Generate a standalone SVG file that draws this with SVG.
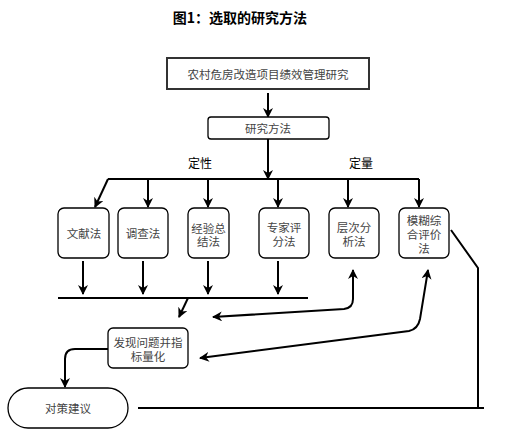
<svg xmlns="http://www.w3.org/2000/svg" width="516" height="431" viewBox="0 0 516 431">
<defs>
<marker id="ah" viewBox="0 0 10 10" refX="9" refY="5" markerWidth="10" markerHeight="10" markerUnits="userSpaceOnUse" orient="auto-start-reverse">
<path d="M0,0 L10,5 L0,10 L3,5 z" fill="#000"/>
</marker>
<style>
.n{fill:#fff;stroke:#000;stroke-width:1.3}
.t{font-family:"Noto Sans CJK SC","Noto Sans",sans-serif;font-size:11.5px;fill:#444;text-anchor:middle;dominant-baseline:central}
.l{font-family:"Noto Sans CJK SC","Noto Sans",sans-serif;font-size:12px;fill:#000;text-anchor:middle;dominant-baseline:central}
.c{fill:none;stroke:#000;stroke-width:2}
.a{marker-end:url(#ah)}
.b{marker-start:url(#ah);marker-end:url(#ah)}
</style>
</defs>
<rect width="516" height="431" fill="#fff"/>
<text x="240" y="17" font-family="'Noto Sans CJK SC',sans-serif" font-size="14" font-weight="bold" text-anchor="middle" dominant-baseline="central">图1：选取的研究方法</text>
<text class="l" x="200" y="162">定性</text>
<text class="l" x="361" y="162">定量</text>
<g id="connectors">
<path class="c a" d="M268,93 L268,117"/>
<path class="c a" d="M268,139 L268,179"/>
<path class="c" d="M108,179 L419,179"/>
<path class="c a" d="M108,179 L95,207"/>
<path class="c a" d="M148,179 L148,207"/>
<path class="c a" d="M208,179 L208,207"/>
<path class="c a" d="M278,179 L278,207"/>
<path class="c a" d="M348,179 L348,207"/>
<path class="c a" d="M419,179 L419,207"/>
<path class="c a" d="M83,261 L83,294"/>
<path class="c a" d="M143,261 L143,294"/>
<path class="c a" d="M208,261 L208,294"/>
<path class="c a" d="M278,261 L278,294"/>
<path class="c" d="M58,298 L308,298"/>
<path class="c a" d="M188,298 L179,317"/>
<path class="c b" d="M213,317 L344,309 Q353,308 353,299 L353,270"/>
<path class="c b" d="M200,358 L409,331 Q418,329 420,319 L428,270"/>
<path class="c" d="M451,230 L478,268 L478,408"/>
<path class="c" d="M484,408 L138,408"/>
<path class="c a" d="M108,349 L75,349 Q65,349 65,359 L65,387"/>
</g>
<g id="n-top"><rect x="167" y="58" width="202" height="31" fill="#fff" stroke="#333" stroke-width="2"/><text class="t" x="268" y="74" font-size="12">农村危房改造项目绩效管理研究</text></g>
<g id="n-method"><rect class="n" x="208" y="117" width="121" height="22" rx="3" stroke-width="1.8"/><text class="t" x="268" y="128">研究方法</text></g>
<g id="n-wx"><rect class="n" x="58" y="208" width="51" height="50" rx="6"/><text class="t" x="84" y="233">文献法</text></g>
<g id="n-dc"><rect class="n" x="118" y="208" width="50" height="50" rx="6"/><text class="t" x="143" y="233">调查法</text></g>
<g id="n-jy"><rect class="n" x="188" y="208" width="41" height="50" rx="6"/><text class="t" x="208.5" y="228">经验总</text><text class="t" x="208.5" y="241">结法</text></g>
<g id="n-zj"><rect class="n" x="259" y="208" width="50" height="50" rx="6"/><text class="t" x="284" y="227">专家评</text><text class="t" x="284" y="241">分法</text></g>
<g id="n-cc"><rect class="n" x="329" y="208" width="50" height="50" rx="6"/><text class="t" x="354" y="227">层次分</text><text class="t" x="354" y="241">析法</text></g>
<g id="n-mh"><rect class="n" x="399" y="208" width="50" height="50" rx="6"/><text class="t" x="424" y="220">模糊综</text><text class="t" x="424" y="234">合评价</text><text class="t" x="424" y="248">法</text></g>
<g id="n-fx"><rect class="n" x="108" y="328" width="80" height="40" rx="5"/><text class="t" x="148" y="342">发现问题并指</text><text class="t" x="148" y="356">标量化</text></g>
<g id="n-dc2"><rect class="n" x="8" y="388" width="120" height="40" rx="20"/><text class="t" x="68" y="408">对策建议</text></g>
</svg>
